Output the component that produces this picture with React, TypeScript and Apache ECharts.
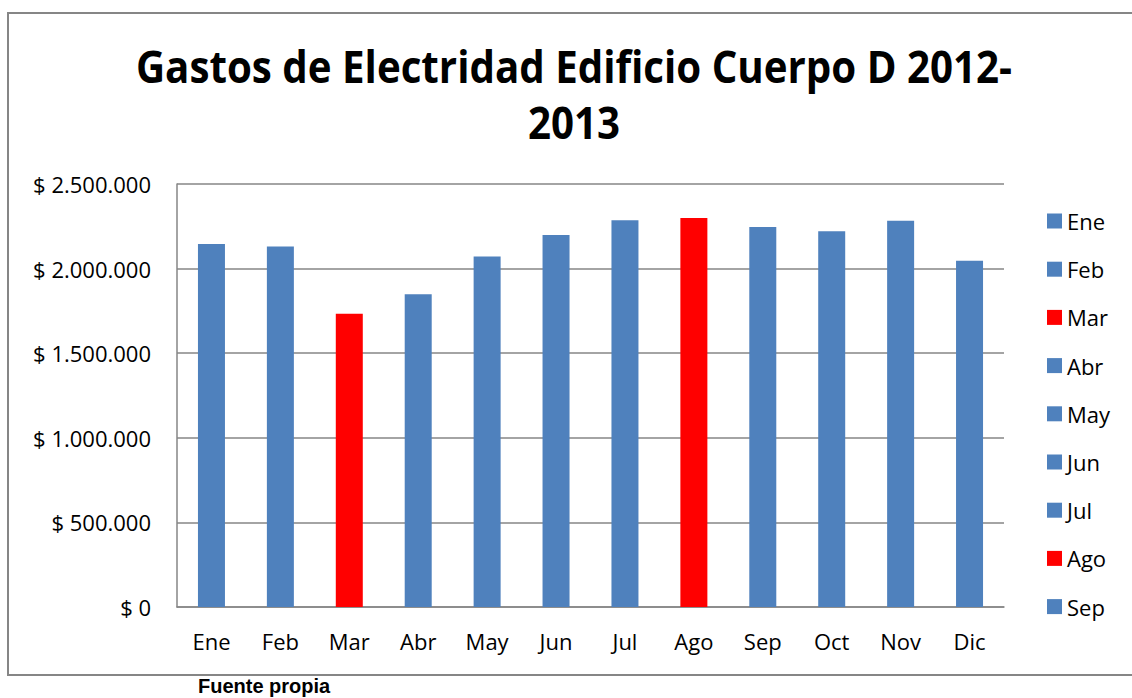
import React, { useEffect, useRef } from "react";
import * as echarts from "echarts";

const TITLE = "Gastos de Electridad Edificio Cuerpo D 2012-\n2013";
const SOURCE_NOTE = "Fuente propia";
const MONTHS = ["Ene", "Feb", "Mar", "Abr", "May", "Jun", "Jul", "Ago", "Sep", "Oct", "Nov", "Dic"];
const COSTS = [2146000, 2130000, 1733000, 1849000, 2071000, 2199000, 2286000, 2299000, 2246000, 2221000, 2283000, 2047000];
const HIGHLIGHT_MONTHS = ["Mar", "Ago"];
const LEGEND_MONTHS = MONTHS.slice(0, 9);
const Y_MIN = 0;
const Y_MAX = 2500000;
const Y_STEP = 500000;

const BLUE = "#4F81BD";
const RED = "#FF0000";
const GRAY = "#868686";
const FONT = "Open Sans";

const fmt = (v: number) =>
  "$ " + String(Math.round(v)).replace(/\B(?=(\d{3})+(?!\d))/g, ".");

export default function App() {
  const ref = useRef<HTMLDivElement>(null);
  useEffect(() => {
    if (!ref.current) return;
    const chart = echarts.init(ref.current, undefined, { renderer: "svg" });
    const series = MONTHS.map((m, i) => ({
      name: m,
      type: "bar",
      stack: "all",
      barWidth: 27,
      itemStyle: { color: HIGHLIGHT_MONTHS.includes(m) ? RED : BLUE },
      data: MONTHS.map((_, j) => (j === i ? COSTS[i] : "-")),
    }));
    chart.setOption({
      animation: false,
      backgroundColor: "#fff",
      grid: { left: 177, top: 184, right: 128, bottom: 91, containLabel: false },
      legend: {
        data: LEGEND_MONTHS,
        orient: "vertical",
        left: 1042,
        top: 205,
        itemWidth: 15,
        itemHeight: 15,
        itemGap: 26.2,
        selectedMode: false,
        icon: "rect",
        textStyle: { fontFamily: FONT, fontSize: 22, color: "#000", lineHeight: 21 },
      },
      xAxis: {
        type: "category",
        data: MONTHS,
        axisLine: { show: true, lineStyle: { color: GRAY, width: 1.5 } },
        axisTick: { show: false },
        axisLabel: { fontFamily: FONT, fontSize: 22, color: "#000", margin: 23 },
      },
      yAxis: {
        type: "value",
        min: Y_MIN,
        max: Y_MAX,
        interval: Y_STEP,
        axisLine: { show: true, lineStyle: { color: GRAY, width: 1.5 } },
        axisTick: { show: false },
        splitLine: { show: true, lineStyle: { color: GRAY, width: 1.5 } },
        axisLabel: { fontFamily: FONT, fontSize: 22, color: "#000", margin: 26, formatter: fmt },
      },
      series,
      graphic: [
        {
          type: "rect",
          silent: true,
          shape: { x: 8, y: 13, width: 1300, height: 662 },
          style: { fill: "none", stroke: GRAY, lineWidth: 2 },
          z: -10,
        },
        {
          type: "text",
          x: 574,
          y: 94,
          scaleX: 0.895,
          style: {
            text: TITLE,
            fontFamily: FONT,
            fontWeight: "bold",
            fontSize: 45,
            lineHeight: 56,
            fill: "#000",
            align: "center",
            verticalAlign: "middle",
          },
        },
        {
          type: "text",
          x: 198,
          y: 686,
          style: {
            text: SOURCE_NOTE,
            fontFamily: "Liberation Sans",
            fontWeight: "bold",
            fontSize: 20,
            fill: "#000",
            align: "left",
            verticalAlign: "middle",
          },
        },
      ],
    });
    return () => chart.dispose();
  }, []);
  return (
    <div
      ref={ref}
      style={{ position: "fixed", left: 0, top: 0, width: 1132, height: 698 }}
    />
  );
}
